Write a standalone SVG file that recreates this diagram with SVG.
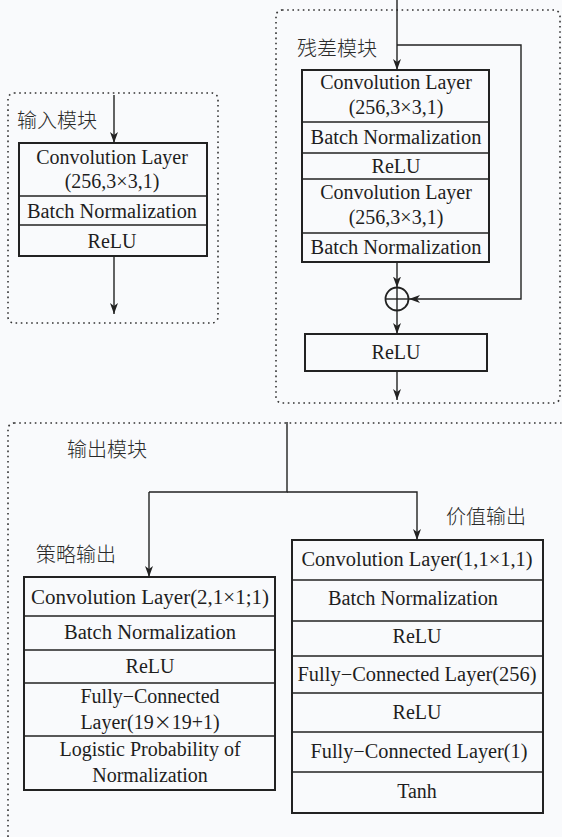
<svg xmlns="http://www.w3.org/2000/svg" width="562" height="837" viewBox="0 0 562 837">
<defs>
<marker id="ah" markerUnits="userSpaceOnUse" markerWidth="12" markerHeight="10" refX="11" refY="4" orient="auto">
<path d="M0,0 L11,4 L0,8 L3,4 Z" fill="#222"/>
</marker>
<style>
.dot{fill:none;stroke:#333;stroke-width:1.6;stroke-dasharray:1.6 3.6}
.box{fill:none;stroke:#222;stroke-width:2}
.div{stroke:#222;stroke-width:1.6}
.ln{fill:none;stroke:#222;stroke-width:1.4}
.t{font-family:"Liberation Serif","Times New Roman",serif;font-size:20px;fill:#1e1e1e;text-anchor:middle}
.c{font-family:"Noto Sans CJK SC","Noto Sans CJK JP",sans-serif;font-size:20px;font-weight:300;fill:#2a2a2a}
</style>
</defs>
<rect width="562" height="837" fill="#f9fafc"/>

<g id="input-module">
<rect class="dot" x="8" y="93" width="210" height="230" rx="6"/>
<text class="c" x="17" y="128">输入模块</text>
<rect class="box" x="19" y="143" width="188" height="113" fill="#fdfdfe"/>
<line class="div" x1="19" y1="196" x2="207" y2="196"/>
<line class="div" x1="19" y1="225" x2="207" y2="225"/>
<text class="t" x="112" y="164">Convolution Layer</text>
<text class="t" x="112" y="188">(256,3×3,1)</text>
<text class="t" x="112" y="218" textLength="170" lengthAdjust="spacingAndGlyphs">Batch Normalization</text>
<text class="t" x="112" y="248">ReLU</text>
</g>

<g id="residual-module">
<rect class="dot" x="276" y="10" width="284" height="393" rx="6"/>
<text class="c" x="297" y="56">残差模块</text>
<rect class="box" x="302" y="70" width="187" height="192"/>
<line class="div" x1="302" y1="122" x2="489" y2="122"/>
<line class="div" x1="302" y1="153" x2="489" y2="153"/>
<line class="div" x1="302" y1="179" x2="489" y2="179"/>
<line class="div" x1="302" y1="233" x2="489" y2="233"/>
<text class="t" x="396" y="89">Convolution Layer</text>
<text class="t" x="396" y="114">(256,3×3,1)</text>
<text class="t" x="396" y="144" textLength="171" lengthAdjust="spacingAndGlyphs">Batch Normalization</text>
<text class="t" x="396" y="173">ReLU</text>
<text class="t" x="396" y="199">Convolution Layer</text>
<text class="t" x="396" y="224">(256,3×3,1)</text>
<text class="t" x="396" y="254" textLength="171" lengthAdjust="spacingAndGlyphs">Batch Normalization</text>
</g>

<g id="add-node">
<circle cx="397" cy="299" r="11.5" fill="none" stroke="#222" stroke-width="1.8"/>
<line class="ln" x1="385.5" y1="299" x2="408.5" y2="299"/>
<line class="ln" x1="397" y1="287.5" x2="397" y2="310.5"/>
</g>

<g id="residual-relu">
<rect class="box" x="305" y="334" width="182" height="37"/>
<text class="t" x="396" y="359">ReLU</text>
</g>

<g id="output-module">
<rect class="dot" x="8" y="423" width="620" height="460" rx="6"/>
<text class="c" x="67" y="457">输出模块</text>
<text class="c" x="446" y="524">价值输出</text>
<text class="c" x="36" y="562">策略输出</text>
</g>

<g id="policy-head">
<rect class="box" x="24" y="577" width="251" height="213"/>
<line class="div" x1="24" y1="616" x2="275" y2="616"/>
<line class="div" x1="24" y1="650" x2="275" y2="650"/>
<line class="div" x1="24" y1="683" x2="275" y2="683"/>
<line class="div" x1="24" y1="736" x2="275" y2="736"/>
<text class="t" x="150" y="604" textLength="238" lengthAdjust="spacingAndGlyphs">Convolution Layer(2,1×1;1)</text>
<text class="t" x="150" y="639" textLength="172" lengthAdjust="spacingAndGlyphs">Batch Normalization</text>
<text class="t" x="150" y="673">ReLU</text>
<text class="t" x="150" y="703">Fully−Connected</text>
<text class="t" x="150" y="729">Layer(19<tspan font-family="Noto Sans CJK SC, sans-serif" font-size="18">×</tspan>19+1)</text>
<text class="t" x="150" y="756">Logistic Probability of</text>
<text class="t" x="150" y="782">Normalization</text>
</g>

<g id="value-head">
<rect class="box" x="292" y="540" width="251" height="273"/>
<line class="div" x1="292" y1="580" x2="543" y2="580"/>
<line class="div" x1="292" y1="621" x2="543" y2="621"/>
<line class="div" x1="292" y1="656" x2="543" y2="656"/>
<line class="div" x1="292" y1="693" x2="543" y2="693"/>
<line class="div" x1="292" y1="732" x2="543" y2="732"/>
<line class="div" x1="292" y1="772" x2="543" y2="772"/>
<text class="t" x="417" y="566" textLength="231" lengthAdjust="spacingAndGlyphs">Convolution Layer(1,1×1,1)</text>
<text class="t" x="413" y="605" textLength="170" lengthAdjust="spacingAndGlyphs">Batch Normalization</text>
<text class="t" x="417" y="643">ReLU</text>
<text class="t" x="417" y="681" textLength="239" lengthAdjust="spacingAndGlyphs">Fully−Connected Layer(256)</text>
<text class="t" x="417" y="719">ReLU</text>
<text class="t" x="419" y="758" textLength="217" lengthAdjust="spacingAndGlyphs">Fully−Connected Layer(1)</text>
<text class="t" x="417" y="798">Tanh</text>
</g>

<g id="connectors">
<line class="ln" x1="114" y1="95" x2="114" y2="143" marker-end="url(#ah)"/>
<line class="ln" x1="114" y1="256" x2="114" y2="314" marker-end="url(#ah)"/>
<line class="ln" x1="397" y1="0" x2="397" y2="70" marker-end="url(#ah)"/>
<path class="ln" d="M397,45 H521 V299 H409" marker-end="url(#ah)"/>
<line class="ln" x1="397" y1="262" x2="397" y2="287.5" marker-end="url(#ah)"/>
<line class="ln" x1="397" y1="310.5" x2="397" y2="334" marker-end="url(#ah)"/>
<line class="ln" x1="397" y1="371" x2="397" y2="400" marker-end="url(#ah)"/>
<path class="ln" d="M287,422 V492 H149"/>
<line class="ln" x1="149" y1="492" x2="149" y2="577" marker-end="url(#ah)"/>
<path class="ln" d="M287,492 H417 V540" marker-end="url(#ah)"/>
</g>
</svg>
